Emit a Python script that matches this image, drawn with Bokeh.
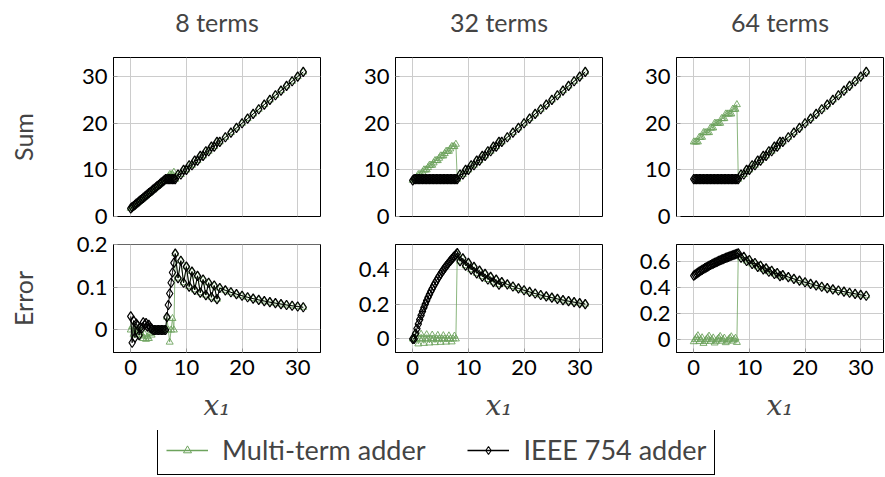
from bokeh.plotting import figure
from bokeh.layouts import row, column
from bokeh.models import Range1d, FixedTicker, CustomJSTickFormatter, Legend, LegendItem
from bokeh.embed import file_html
from bokeh.resources import INLINE

# ---------------- data ----------------
x1_vals = [0, 0.25, 0.5, 0.75, 1, 1.25, 1.5, 1.75, 2, 2.25, 2.5, 2.75, 3, 3.25, 3.5, 3.75,
           4, 4.25, 4.5, 4.75, 5, 5.25, 5.5, 5.75, 6, 6.25, 6.5, 6.75, 7, 7.25, 7.5, 7.75,
           8, 8.5, 9, 9.5, 10, 10.5, 11, 11.5, 12, 12.5, 13, 13.5, 14, 14.5, 15, 15.5,
           16, 17, 18, 19, 20, 21, 22, 23, 24, 25, 26, 27, 28, 29, 30, 31]

# sums for x1 >= 8 (both adders agree there)
sum_hi = [8, 9, 9, 10, 10, 11, 11, 12, 12, 13, 13, 14, 14, 15, 15, 16,
          16, 17, 18, 19, 20, 21, 22, 23, 24, 25, 26, 27, 28, 29, 30, 31]

# 8 terms
sum8_ieee_lo = [1.75, 2, 2.25, 2.5, 2.75, 3, 3.25, 3.5, 3.75, 4, 4.25, 4.5, 4.75, 5, 5.25, 5.5,
                5.75, 6, 6.25, 6.5, 6.75, 7, 7.25, 7.5, 7.75, 8, 8, 8, 8, 8, 8, 8]
sum8_multi_lo = [1.75, 2, 2.25, 2.5, 2.75, 3, 3.25, 3.5, 3.75, 4, 4.25, 4.5, 4.75, 5, 5.25, 5.5,
                 5.75, 6, 6.25, 6.5, 6.75, 7, 7.25, 7.5, 7.75, 8, 8, 8.5, 9, 9, 9, 9.5]
err8_ieee_lo = [0.032, -0.03, 0.022, -0.018, 0.015, 0.01, -0.012, 0.006, 0.004, 0.018, 0.012, 0.016,
                0.008, 0.012, 0.005, 0.003, 0.0, 0.0, 0.0, 0.0, 0.0, 0.0, 0.0, 0.0, 0.0, 0.0,
                0.0303, 0.0588, 0.0857, 0.1111, 0.1351, 0.1579]
err8_multi_lo = [0.0, 0.008, -0.01, 0.004, -0.012, 0.0, 0.006, -0.006, -0.014, -0.02, -0.01, -0.022,
                 -0.016, -0.02, -0.008, -0.012, 0.0, 0.0, 0.0, 0.0, 0.0, 0.0, 0.0, 0.0, 0.0, 0.0,
                 0.0303, 0.0, -0.0286, 0.0, 0.027, 0.0]
err8_hi = [0.1795, 0.1220, 0.1628, 0.1111, 0.1489, 0.1020, 0.1373, 0.0943, 0.1273, 0.0877, 0.1186,
           0.0820, 0.1111, 0.0769, 0.1045, 0.0725, 0.0986, 0.0933, 0.0886, 0.0843, 0.0805, 0.0769,
           0.0737, 0.0707, 0.0680, 0.0654, 0.0631, 0.0609, 0.0588, 0.0569, 0.0551, 0.0534]

# 32 terms
sum32_ieee_lo = [7.75, 8, 8, 8, 8, 8, 8, 8, 8, 8, 8, 8, 8, 8, 8, 8,
                 8, 8, 8, 8, 8, 8, 8, 8, 8, 8, 8, 8, 8, 8, 8, 8]
sum32_multi_lo = [7.75, 8, 8, 8.5, 9, 9, 9, 9.5, 10, 10, 10, 10.5, 11, 11, 11, 11.5,
                  12, 12, 12, 12.5, 13, 13, 13, 13.5, 14, 14, 14, 14.5, 15, 15, 15, 15.5]
err32_ieee_lo = [0.0, 0.0, 0.0303, 0.0588, 0.0857, 0.1111, 0.1351, 0.1579, 0.1795, 0.2, 0.2195,
                 0.2381, 0.2558, 0.2727, 0.2889, 0.3043, 0.3191, 0.3333, 0.3469, 0.36, 0.3725,
                 0.3846, 0.3962, 0.4074, 0.4182, 0.4286, 0.4386, 0.4483, 0.4576, 0.4667, 0.4754, 0.4839]
err32_multi_lo = [0.0, 0.0, 0.0303, 0.0, -0.0286, 0.0, 0.027, 0.0, -0.0256, 0.0, 0.0244, 0.0,
                  -0.0233, 0.0, 0.0222, 0.0, -0.0213, 0.0, 0.0204, 0.0, -0.0196, 0.0, 0.0189, 0.0,
                  -0.0182, 0.0, 0.0175, 0.0, -0.0169, 0.0, 0.0164, 0.0]
err32_hi = [0.4921, 0.4462, 0.4627, 0.4203, 0.4366, 0.3973, 0.4133, 0.3766, 0.3924, 0.3580, 0.3735,
            0.3412, 0.3563, 0.3258, 0.3407, 0.3118, 0.3263, 0.3131, 0.3010, 0.2897, 0.2793, 0.2696,
            0.2605, 0.2520, 0.2441, 0.2366, 0.2296, 0.2230, 0.2168, 0.2109, 0.2053, 0.2000]

# 64 terms
sum64_ieee_lo = [8, 8, 8, 8, 8, 8, 8, 8, 8, 8, 8, 8, 8, 8, 8, 8,
                 8, 8, 8, 8, 8, 8, 8, 8, 8, 8, 8, 8, 8, 8, 8, 8]
sum64_multi_lo = [16, 16, 16, 16, 17, 17, 17, 18, 18, 18, 18, 18, 19, 19, 19, 20,
                  20, 20, 20, 20, 21, 21, 21, 22, 22, 22, 22, 22, 23, 23, 23, 24]
err64_ieee_lo = [0.4921, 0.5, 0.5077, 0.5152, 0.5224, 0.5294, 0.5362, 0.5429, 0.5493, 0.5556,
                 0.5616, 0.5676, 0.5733, 0.5789, 0.5844, 0.5897, 0.5949, 0.6, 0.6049, 0.6098,
                 0.6145, 0.6190, 0.6235, 0.6279, 0.6322, 0.6364, 0.6404, 0.6444, 0.6484, 0.6522,
                 0.6559, 0.6596]
err64_multi_lo = [-0.0159, 0.0, 0.0154, 0.0303, -0.0149, 0.0, 0.0145, -0.0286, -0.0141, 0.0,
                  0.0137, 0.027, -0.0133, 0.0, 0.013, -0.0256, -0.0127, 0.0, 0.0123, 0.0244,
                  -0.012, 0.0, 0.0118, -0.0233, -0.0115, 0.0, 0.0112, 0.0222, -0.011, 0.0,
                  0.0108, -0.0213]
err64_hi = [0.6632, 0.6289, 0.6364, 0.6040, 0.6117, 0.5810, 0.5888, 0.5596, 0.5676, 0.5398, 0.5478,
            0.5214, 0.5294, 0.5041, 0.5122, 0.4880, 0.4961, 0.4809, 0.4667, 0.4532, 0.4406, 0.4286,
            0.4172, 0.4065, 0.3962, 0.3865, 0.3772, 0.3684, 0.3600, 0.3520, 0.3443, 0.3369]

titles = ["8 terms", "32 terms", "64 terms"]
x_ticks = [0, 10, 20, 30]
sum_ticks = [0, 10, 20, 30]
err_ticks = [[0, 0.1, 0.2], [0, 0.2, 0.4], [0, 0.2, 0.4, 0.6]]
series_names = ["Multi-term adder", "IEEE 754 adder"]

# ---------------- style ----------------
GREEN = "#6da35d"
FONT = "Lato"
GRIDC = "#cccccc"
TICKC = "#999999"
TICK_FS = "22px"

cols = [
    dict(sum_m=sum8_multi_lo + sum_hi, sum_i=sum8_ieee_lo + sum_hi,
         err_m=err8_multi_lo + err8_hi, err_i=err8_ieee_lo + err8_hi,
         err_range=(-0.053, 0.201), w=340, bl=113, br=20),
    dict(sum_m=sum32_multi_lo + sum_hi, sum_i=sum32_ieee_lo + sum_hi,
         err_m=err32_multi_lo + err32_hi, err_i=err32_ieee_lo + err32_hi,
         err_range=(-0.078, 0.542), w=282, bl=55, br=20),
    dict(sum_m=sum64_multi_lo + sum_hi, sum_i=sum64_ieee_lo + sum_hi,
         err_m=err64_multi_lo + err64_hi, err_i=err64_ieee_lo + err64_hi,
         err_range=(-0.099, 0.731), w=262, bl=54, br=1),
]

fmt_code = "return String(Math.round(tick*1000)/1000);"


def style_axis(ax, ticks):
    ax.ticker = FixedTicker(ticks=ticks)
    ax.formatter = CustomJSTickFormatter(code=fmt_code)
    ax.major_label_text_font = FONT
    ax.major_label_text_font_size = TICK_FS
    ax.major_label_text_color = "black"
    ax.major_tick_in = 4
    ax.major_tick_out = 0
    ax.minor_tick_in = 0
    ax.minor_tick_out = 0
    ax.major_tick_line_color = TICKC
    ax.axis_line_color = "black"
    ax.major_label_standoff = 6


def draw(p, ym, yi):
    p.line(x1_vals, ym, line_color=GREEN, line_width=0.8)
    p.scatter(x1_vals, ym, marker="triangle", size=7, fill_color=None,
              line_color=GREEN, line_width=0.9)
    p.line(x1_vals, yi, line_color="black", line_width=1)
    p.scatter(x1_vals, yi, marker="diamond", size=9.5, fill_color=None,
              line_color="black", line_width=1.2)


def base_style(p):
    p.outline_line_color = "black"
    p.outline_line_alpha = 1
    p.outline_line_width = 1
    p.xgrid.grid_line_color = GRIDC
    p.ygrid.grid_line_color = GRIDC
    p.background_fill_color = "white"
    p.border_fill_color = "white"


title_figs, top_figs, bot_figs = [], [], []
for i, c in enumerate(cols):
    # title strip: a figure whose (empty, invisible) frame is a thin band at its bottom
    t = figure(width=c["w"], height=40, x_range=Range1d(0, 1), y_range=Range1d(0, 1),
               output_backend="svg", toolbar_location=None, title=titles[i],
               x_axis_location=None, y_axis_location=None,
               min_border_left=c["bl"], min_border_right=c["br"],
               min_border_top=38, min_border_bottom=0)
    t.outline_line_color = None
    t.grid.visible = False
    t.title.align = "center"
    t.title.vertical_align = "bottom"
    t.title.text_font = FONT
    t.title.text_font_size = "25px"
    t.title.text_font_style = "normal"
    t.title.standoff = 4
    title_figs.append(t)

    p = figure(width=c["w"], height=190, x_range=Range1d(-3.1, 34.1), y_range=Range1d(0, 34.1),
               output_backend="svg", toolbar_location=None, title=None,
               x_axis_location=None,
               min_border_left=c["bl"], min_border_right=c["br"],
               min_border_top=17, min_border_bottom=14)
    base_style(p)
    p.xgrid.ticker = FixedTicker(ticks=x_ticks)
    style_axis(p.yaxis[0], sum_ticks)
    if i == 0:
        p.yaxis.axis_label = "Sum"
        p.yaxis.axis_label_text_font = FONT
        p.yaxis.axis_label_text_font_size = "25px"
        p.yaxis.axis_label_text_font_style = "normal"
        p.yaxis.axis_label_standoff = 41
    draw(p, c["sum_m"], c["sum_i"])
    top_figs.append(p)

    q = figure(width=c["w"], height=200, x_range=Range1d(-3.1, 34.1),
               y_range=Range1d(*c["err_range"]),
               output_backend="svg", toolbar_location=None, title=None,
               min_border_left=c["bl"], min_border_right=c["br"],
               min_border_top=14, min_border_bottom=78)
    base_style(q)
    style_axis(q.xaxis[0], x_ticks)
    q.xaxis.major_label_standoff = 7
    style_axis(q.yaxis[0], err_ticks[i])
    q.xaxis.axis_label = "x\u2081"
    q.xaxis.axis_label_text_font = "DejaVu Serif"
    q.xaxis.axis_label_text_font_size = "28px"
    q.xaxis.axis_label_text_font_style = "italic"
    q.xaxis.axis_label_standoff = 11
    if i == 0:
        q.yaxis.axis_label = "Error"
        q.yaxis.axis_label_text_font = FONT
        q.yaxis.axis_label_text_font_size = "25px"
        q.yaxis.axis_label_text_font_style = "normal"
        q.yaxis.axis_label_standoff = 36
    draw(q, c["err_m"], c["err_i"])
    bot_figs.append(q)

# legend figure: its sample renderers use the series data but lie outside the visible range
lp = figure(width=884, height=46, x_range=Range1d(-10, -9), y_range=Range1d(-10, -9),
            output_backend="svg", toolbar_location=None, title=None,
            x_axis_location=None, y_axis_location=None, min_border=0)
lp.outline_line_color = None
lp.grid.visible = False
src_m, src_i = cols[0]["sum_m"], cols[0]["sum_i"]
r1 = lp.line(x1_vals, src_m, line_color=GREEN, line_width=1.6)
r2 = lp.scatter(x1_vals, src_m, marker="triangle", size=7, fill_color=None,
                line_color=GREEN, line_width=1)
r3 = lp.line(x1_vals, src_i, line_color="black", line_width=1.6)
r4 = lp.scatter(x1_vals, src_i, marker="diamond", size=9, fill_color=None,
                line_color="black", line_width=1.1)
legend = Legend(items=[LegendItem(label=series_names[0], renderers=[r1, r2]),
                       LegendItem(label=series_names[1], renderers=[r3, r4])],
                orientation="horizontal", location=(157, 1),
                border_line_color="black", border_line_width=1, border_line_alpha=1,
                background_fill_color="white", background_fill_alpha=1,
                label_text_font=FONT, label_text_font_size="27px",
                glyph_width=42, label_standoff=14, spacing=42, padding=8, margin=0)
lp.add_layout(legend)

layout = column(row(*title_figs), row(*top_figs), row(*bot_figs), lp)

open("out.html", "w").write(file_html(layout, INLINE))
